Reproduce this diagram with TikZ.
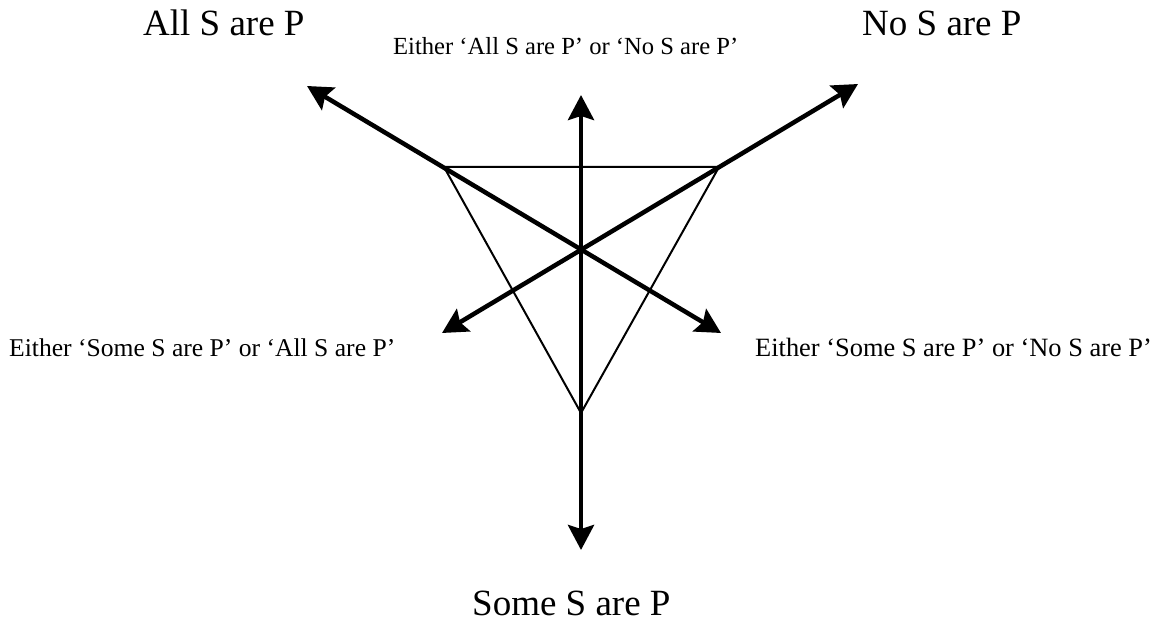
\documentclass[tikz,border=0pt]{standalone}
\usepackage{fontspec}
\setmainfont{Liberation Serif}
\usetikzlibrary{arrows.meta}
\begin{document}
\begin{tikzpicture}[x=1pt,y=-1pt,
  arrline/.style={line width=4.5pt,{Stealth[length=25pt,width=26pt,inset=4pt]}-{Stealth[length=25pt,width=26pt,inset=4pt]}},
  triline/.style={line width=2pt,line join=miter},
  biglabel/.style={anchor=base west,inner sep=0pt,font=\fontsize{37}{40}\selectfont},
  smalllabel/.style={anchor=base west,inner sep=0pt}]
\useasboundingbox (0,0) rectangle (1158,628);
% triangle vertices
\coordinate (tl) at (444,167);
\coordinate (tr) at (719,167);
\coordinate (tb) at (581,413);
% arrow tips
\coordinate (up) at (581,95);
\coordinate (down) at (581,550);
\coordinate (ul) at (307,86);
\coordinate (lr) at (721,333);
\coordinate (ur) at (858,84);
\coordinate (ll) at (442,333);
\draw[triline] (tl) -- (tr) -- (tb) -- cycle;
\draw[arrline] (up) -- (down);
\draw[arrline] (ul) -- (lr);
\draw[arrline] (ur) -- (ll);
% labels
\node[biglabel] (all) at (143,36) {All S are P};
\node[biglabel] (no) at (862,36) {No S are P};
\node[biglabel] (some) at (472,615) {Some S are P};
\node[smalllabel,font=\fontsize{24.6}{28}\selectfont] (allno) at (393,55) {Either ‘All S are P’ or ‘No S are P’};
\node[smalllabel,font=\fontsize{25.6}{28}\selectfont] (someall) at (9,356) {Either ‘Some S are P’ or ‘All S are P’};
\node[smalllabel,font=\fontsize{26.4}{28}\selectfont] (someno) at (755,356) {Either ‘Some S are P’ or ‘No S are P’};
\end{tikzpicture}
\end{document}
